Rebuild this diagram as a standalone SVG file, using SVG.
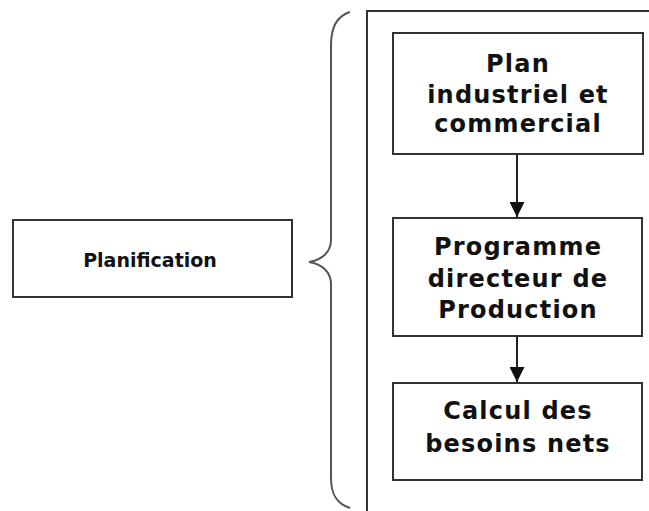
<svg xmlns="http://www.w3.org/2000/svg" width="649" height="511" viewBox="0 0 649 511">
  <style>
    .box { fill: #ffffff; stroke: #333333; stroke-width: 2; }
    .lbl { font-family: "DejaVu Sans", Verdana, sans-serif; font-weight: bold; fill: #111111; text-anchor: middle; }
    .big { font-size: 24px; letter-spacing: 1.2px; }
    .small { font-size: 19px; }
    .conn { stroke: #222222; stroke-width: 2; fill: none; }
  </style>
  <defs>
    <marker id="arrow" markerUnits="userSpaceOnUse" markerWidth="16" markerHeight="15" refX="15" refY="7.5" orient="auto" viewBox="0 0 16 15">
      <path d="M0,0 L15,7.5 L0,15 z" fill="#111111"/>
    </marker>
  </defs>
  <rect width="649" height="511" fill="#ffffff"/>

  <g id="frame">
    <path d="M367,511 L367,11 L649,11" fill="none" stroke="#333333" stroke-width="2"/>
  </g>

  <g id="brace">
    <path d="M350,12 C337,16 331,28 331,45 L331,240 C331,252 322,260 309,262 C322,264 331,272 331,284 L331,478 C331,495 337,504 350,508" fill="none" stroke="#555555" stroke-width="2"/>
  </g>

  <g id="node-planification">
    <rect class="box" x="13" y="220" width="279" height="77"/>
    <text class="lbl small" x="150" y="267">Planification</text>
  </g>

  <g id="node-plan">
    <rect class="box" x="393" y="33" width="250" height="121"/>
    <text class="lbl big" x="518" y="72">Plan</text>
    <text class="lbl big" x="518" y="103">industriel et</text>
    <text class="lbl big" x="518" y="132">commercial</text>
  </g>

  <g id="node-pdp">
    <rect class="box" x="393" y="218" width="249" height="118"/>
    <text class="lbl big" x="518" y="255">Programme</text>
    <text class="lbl big" x="518" y="287">directeur de</text>
    <text class="lbl big" x="518" y="318">Production</text>
  </g>

  <g id="node-cbn">
    <rect class="box" x="393" y="383" width="249" height="97"/>
    <text class="lbl big" x="518" y="419">Calcul des</text>
    <text class="lbl big" x="518" y="452">besoins nets</text>
  </g>

  <g id="connectors">
    <line class="conn" x1="517" y1="154" x2="517" y2="217" marker-end="url(#arrow)"/>
    <line class="conn" x1="517" y1="336" x2="517" y2="382" marker-end="url(#arrow)"/>
  </g>
</svg>
